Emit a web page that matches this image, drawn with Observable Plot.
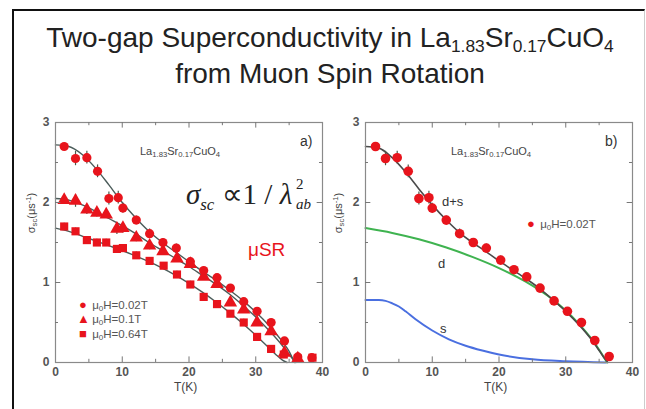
<!DOCTYPE html>
<html>
<head>
<meta charset="utf-8">
<script src="https://cdn.jsdelivr.net/npm/d3@7"></script>
<script src="https://cdn.jsdelivr.net/npm/@observablehq/plot@0.6"></script>
<style>
  html, body { margin: 0; padding: 0; background: #fff; }
  body { width: 646px; height: 409px; position: relative; overflow: hidden; font-family: "Liberation Sans", Arial, sans-serif; }
  .abs { position: absolute; white-space: nowrap; }
  #frame { position: absolute; left: 12px; top: 9px; width: 630px; height: 420px; border-left: 2px solid #111; border-top: 2px solid #111; border-right: 1px solid #ccc; }
  .title { left: 0; width: 660px; text-align: center; font-size: 28px; color: #222; }
  .title sub { font-size: 62%; vertical-align: -0.3em; line-height: 0; }
  .chem { font-size: 11px; color: #444; }
  .chem sub { font-size: 70%; vertical-align: -0.3em; line-height: 0; }
  .lbl { font-size: 12px; color: #444; }
  .lbl sub, .lbl sup { font-size: 70%; line-height: 0; }
  .leg { font-size: 11.5px; color: #555; }
  .leg sub { font-size: 70%; vertical-align: -0.3em; line-height: 0; }
  .leg .m { color: #e8141c; display: inline-block; width: 12px; text-align: center; font-size: 13px; }
  .formula { font-family: "Liberation Serif", "Times New Roman", serif; font-size: 29px; color: #222; line-height: 1; }
  .fs { font-family: "Liberation Serif", "Times New Roman", serif; font-size: 15px; color: #222; line-height: 1; }
  .plot { position: absolute; top: 100px; }
</style>
</head>
<body>
<div id="frame"></div>
<div class="abs title" style="top:22px;">Two-gap Superconductivity in La<sub>1.83</sub>Sr<sub>0.17</sub>CuO<sub>4</sub></div>
<div class="abs title" style="top:58px;">from Muon Spin Rotation</div>
<div id="pa" class="plot" style="left:0px;"></div>
<div id="pb" class="plot" style="left:330px;"></div>

<!-- panel a annotations -->
<div class="abs chem" style="left:140px; top:145px;">La<sub>1.83</sub>Sr<sub>0.17</sub>CuO<sub>4</sub></div>
<div class="abs lbl" style="left:300px; top:133px; font-size:14px; color:#333;">a)</div>
<div class="abs formula" style="left:186px; top:180px;"><i>σ</i><sub style="font-size:58%;vertical-align:-0.35em;line-height:0;"><i>sc</i></sub> ∝1 / <i>λ</i></div>
<div class="abs fs" style="left:296px; top:177px;">2</div>
<div class="abs fs" style="left:296px; top:197px;"><i>ab</i></div>
<div class="abs" style="left:248px; top:239px; font-size:19px; color:#e8141c;">μSR</div>
<div class="abs leg" style="left:77px; top:297px;"><span class="m">●</span> μ<sub>0</sub>H=0.02T</div>
<div class="abs leg" style="left:77px; top:311px;"><span class="m">▲</span> μ<sub>0</sub>H=0.1T</div>
<div class="abs leg" style="left:77px; top:326px;"><span class="m">■</span> μ<sub>0</sub>H=0.64T</div>
<div class="abs lbl" style="left:174px; top:380px;">T(K)</div>
<div class="abs lbl" style="left:31px; top:213px; transform: translate(-50%,-50%) rotate(-90deg); font-size:11px;">σ<sub style="vertical-align:-0.3em">sc</sub>(μs<sup style="vertical-align:0.5em">-1</sup>)</div>

<!-- panel b annotations -->
<div class="abs chem" style="left:451px; top:145px;">La<sub>1.83</sub>Sr<sub>0.17</sub>CuO<sub>4</sub></div>
<div class="abs lbl" style="left:605px; top:133px; font-size:14px; color:#333;">b)</div>
<div class="abs lbl" style="left:442px; top:194px; font-size:13px; color:#333;">d+s</div>
<div class="abs lbl" style="left:438px; top:256px; font-size:13px; color:#333;">d</div>
<div class="abs lbl" style="left:440px; top:321px; font-size:13px; color:#333;">s</div>
<div class="abs leg" style="left:525px; top:216px;"><span class="m">●</span> μ<sub>0</sub>H=0.02T</div>
<div class="abs lbl" style="left:484px; top:380px;">T(K)</div>
<div class="abs lbl" style="left:338px; top:213px; transform: translate(-50%,-50%) rotate(-90deg); font-size:11px;">σ<sub style="vertical-align:-0.3em">sc</sub>(μs<sup style="vertical-align:0.5em">-1</sup>)</div>

<script>
// ---------- data ----------
// panel a, mu0H = 0.02 T (circles)
const circT   = [1.3, 3.0, 4.7, 6.3, 8.0, 9.4, 10.1, 12.1, 14.1, 16.1, 18.1, 20.2, 22.2, 24.2, 26.2, 28.2, 30.2, 32.3, 34.3, 36.3, 38.4];
const circS   = [2.70, 2.55, 2.56, 2.39, 2.05, 2.06, 1.93, 1.78, 1.61, 1.50, 1.43, 1.26, 1.15, 1.06, 0.93, 0.76, 0.64, 0.50, 0.27, 0.07, 0.06];
const circErr = [0.04, 0.09, 0.08, 0.08, 0.08, 0.08, 0.06, 0.05, 0.06, 0.05, 0.05, 0.05, 0.04, 0.04, 0.04, 0.04, 0.04, 0.04, 0.04, 0.04, 0.03];
// mu0H = 0.1 T (triangles)
const triT   = [1.3, 3.0, 4.7, 6.2, 7.6, 9.2, 10.1, 12.1, 14.1, 16.1, 18.2, 20.2, 22.2, 24.2, 26.2, 28.2, 30.2, 32.3, 34.3, 36.3];
const triS   = [2.03, 2.02, 1.91, 1.87, 1.85, 1.67, 1.68, 1.56, 1.46, 1.39, 1.30, 1.23, 1.07, 0.98, 0.75, 0.66, 0.50, 0.39, 0.12, 0.05];
const triErr = [0.05, 0.08, 0.06, 0.05, 0.05, 0.07, 0.06, 0.05, 0.05, 0.05, 0.04, 0.04, 0.04, 0.04, 0.04, 0.04, 0.04, 0.04, 0.04, 0.03];
// mu0H = 0.64 T (squares)
const sqT   = [1.3, 3.0, 4.7, 6.2, 7.6, 9.2, 10.1, 12.1, 14.1, 16.2, 18.2, 20.2, 22.2, 24.2, 26.2, 28.2, 30.2, 32.3, 34.2, 36.3, 38.5];
const sqS   = [1.70, 1.64, 1.53, 1.50, 1.50, 1.42, 1.43, 1.34, 1.27, 1.21, 1.10, 0.975, 0.82, 0.73, 0.61, 0.50, 0.32, 0.17, 0.10, 0.05, 0.06];
const sqErr = [0.04, 0.04, 0.04, 0.04, 0.04, 0.04, 0.04, 0.04, 0.04, 0.04, 0.04, 0.04, 0.04, 0.04, 0.04, 0.04, 0.04, 0.04, 0.04, 0.03, 0.03];

// fit curves, panel a
const fit1T = [0, 2, 4, 6, 8, 10, 12, 14, 16, 18, 20, 22, 24, 26, 28, 30, 32, 34, 35, 35.8];
const fit1S = [2.72, 2.70, 2.60, 2.43, 2.22, 2.00, 1.81, 1.64, 1.50, 1.38, 1.26, 1.14, 1.03, 0.91, 0.78, 0.63, 0.46, 0.26, 0.14, 0.0];
const fit2T = [0, 2, 4, 6, 8, 10, 12, 14, 16, 18, 20, 22, 24, 26, 28, 30, 32, 34, 35, 36];
const fit2S = [2.05, 2.03, 1.97, 1.89, 1.80, 1.71, 1.61, 1.50, 1.40, 1.30, 1.20, 1.09, 0.98, 0.86, 0.72, 0.57, 0.40, 0.21, 0.10, 0.0];
const fit3T = [0, 2, 4, 6, 8, 10, 12, 14, 16, 18, 20, 22, 24, 26, 28, 30, 32, 33, 34, 34.7];
const fit3S = [1.68, 1.64, 1.58, 1.52, 1.46, 1.40, 1.33, 1.26, 1.18, 1.09, 0.99, 0.88, 0.76, 0.63, 0.49, 0.34, 0.18, 0.10, 0.03, 0.0];

// panel b, mu0H = 0.02 T data
const bT   = [1.5, 3.0, 4.75, 6.4, 8.0, 9.5, 10.0, 12.1, 14.1, 16.15, 18.1, 20.25, 22.25, 24.15, 26.15, 28.25, 30.25, 32.35, 34.35, 36.5];
const bS   = [2.70, 2.55, 2.56, 2.39, 2.05, 2.06, 1.93, 1.78, 1.61, 1.50, 1.43, 1.28, 1.16, 1.07, 0.93, 0.77, 0.64, 0.50, 0.275, 0.075];
const bErr = [0.04, 0.09, 0.08, 0.08, 0.08, 0.08, 0.06, 0.05, 0.06, 0.05, 0.05, 0.05, 0.04, 0.04, 0.04, 0.04, 0.04, 0.04, 0.04, 0.04];
// panel b curves
const dsT = [0, 2, 4, 6, 8, 10, 12, 14, 16, 18, 20, 22, 24, 26, 28, 30, 32, 34, 35, 36, 36.3];
const dsS = [2.70, 2.68, 2.56, 2.38, 2.17, 1.97, 1.79, 1.63, 1.50, 1.39, 1.27, 1.16, 1.05, 0.93, 0.79, 0.64, 0.47, 0.27, 0.15, 0.03, 0.0];
const dT  = [0, 4, 8, 12, 16, 20, 24, 28, 30, 32, 34, 35, 36.2];
const dS  = [1.68, 1.62, 1.54, 1.44, 1.32, 1.18, 1.01, 0.79, 0.65, 0.48, 0.28, 0.16, 0.0];
const sT  = [0, 2, 3, 4, 5, 6, 7.5, 10, 12.5, 15, 17.5, 20, 25, 30, 36];
const sS  = [0.78, 0.78, 0.77, 0.74, 0.70, 0.64, 0.54, 0.40, 0.29, 0.21, 0.15, 0.10, 0.04, 0.015, 0.0];

const xTicks = [0, 10, 20, 30, 40];
const yTicks = [0, 1, 2, 3];

// ---------- helpers ----------
const pts = (T, S, E) => T.map((t, i) => ({T: t, s: S[i], e: E ? E[i] : 0}));
const RED = "#e8141c";

function frameMarks() {
  return [
    Plot.frame({stroke: "#8a8a8a", strokeWidth: 1.2}),
    // inward ticks
    Plot.ruleX([10, 20, 30], {x: d => d, y1: 0, y2: 0.07, stroke: "#777"}),
    Plot.ruleX([5, 15, 25, 35], {x: d => d, y1: 0, y2: 0.04, stroke: "#777"}),
    Plot.ruleX([10, 20, 30], {x: d => d, y1: 3, y2: 2.93, stroke: "#777"}),
    Plot.ruleX([5, 15, 25, 35], {x: d => d, y1: 3, y2: 2.96, stroke: "#777"}),
    Plot.ruleY([1, 2], {y: d => d, x1: 0, x2: 0.8, stroke: "#777"}),
    Plot.ruleY([0.5, 1.5, 2.5], {y: d => d, x1: 0, x2: 0.45, stroke: "#777"}),
    Plot.ruleY([1, 2], {y: d => d, x1: 40, x2: 39.2, stroke: "#777"}),
    Plot.ruleY([0.5, 1.5, 2.5], {y: d => d, x1: 40, x2: 39.55, stroke: "#777"}),
    Plot.axisX({ticks: xTicks, tickFormat: d => String(d), tickSize: 0, tickPadding: 5, label: null, fontSize: 12, fontWeight: "bold", color: "#555"}),
    Plot.axisY({ticks: yTicks, tickFormat: d => String(d), tickSize: 0, tickPadding: 6, label: null, fontSize: 12, fontWeight: "bold", color: "#555"})
  ];
}

const common = {
  height: 300,
  marginTop: 22,
  marginBottom: 38,
  x: {domain: [0, 40]},
  y: {domain: [0, 3]},
  style: {fontFamily: "Liberation Sans, Arial, sans-serif", background: "transparent", overflow: "visible"}
};

const circ = pts(circT, circS, circErr);
const tri = pts(triT, triS, triErr);
const sq = pts(sqT, sqS, sqErr);
const fitStroke = "#4b5c5a";

const pa = Plot.plot({
  ...common,
  width: 330,
  marginLeft: 55,
  marginRight: 8,
  marks: [
    Plot.line(pts(fit1T, fit1S), {x: "T", y: "s", curve: "monotone-x", stroke: fitStroke, strokeWidth: 1.4}),
    Plot.line(pts(fit2T, fit2S), {x: "T", y: "s", curve: "monotone-x", stroke: fitStroke, strokeWidth: 1.4}),
    Plot.line(pts(fit3T, fit3S), {x: "T", y: "s", curve: "monotone-x", stroke: fitStroke, strokeWidth: 1.4}),
    Plot.ruleX(circ, {x: "T", y1: d => d.s - d.e, y2: d => d.s + d.e, stroke: "#4a5a4a", strokeWidth: 1.2}),
    Plot.ruleX(tri, {x: "T", y1: d => d.s - d.e, y2: d => d.s + d.e, stroke: "#4a5a4a", strokeWidth: 1.2}),
    Plot.ruleX(sq, {x: "T", y1: d => d.s - d.e, y2: d => d.s + d.e, stroke: "#4a5a4a", strokeWidth: 1.2}),
    Plot.dot(sq, {x: "T", y: "s", symbol: "square", r: 4.6, fill: RED}),
    Plot.dot(tri, {x: "T", y: "s", symbol: "triangle", r: 5, fill: RED}),
    Plot.dot(circ, {x: "T", y: "s", r: 4.6, fill: RED}),
    ...frameMarks()
  ]
});
document.getElementById("pa").append(pa);

const bdata = pts(bT, bS, bErr);
const pb = Plot.plot({
  ...common,
  width: 316,
  marginLeft: 35,
  marginRight: 14,
  marks: [
    Plot.line(pts(sT, sS), {x: "T", y: "s", curve: "monotone-x", stroke: "#4a6fe0", strokeWidth: 2}),
    Plot.line(pts(dT, dS), {x: "T", y: "s", curve: "monotone-x", stroke: "#3fb350", strokeWidth: 2}),
    Plot.line(pts(dsT, dsS), {x: "T", y: "s", curve: "monotone-x", stroke: "#4a4a4a", strokeWidth: 1.6}),
    Plot.ruleX(bdata, {x: "T", y1: d => d.s - d.e, y2: d => d.s + d.e, stroke: "#4a5a4a", strokeWidth: 1.2}),
    Plot.dot(bdata, {x: "T", y: "s", r: 4.8, fill: RED}),
    ...frameMarks()
  ]
});
document.getElementById("pb").append(pb);
</script>
</body>
</html>
